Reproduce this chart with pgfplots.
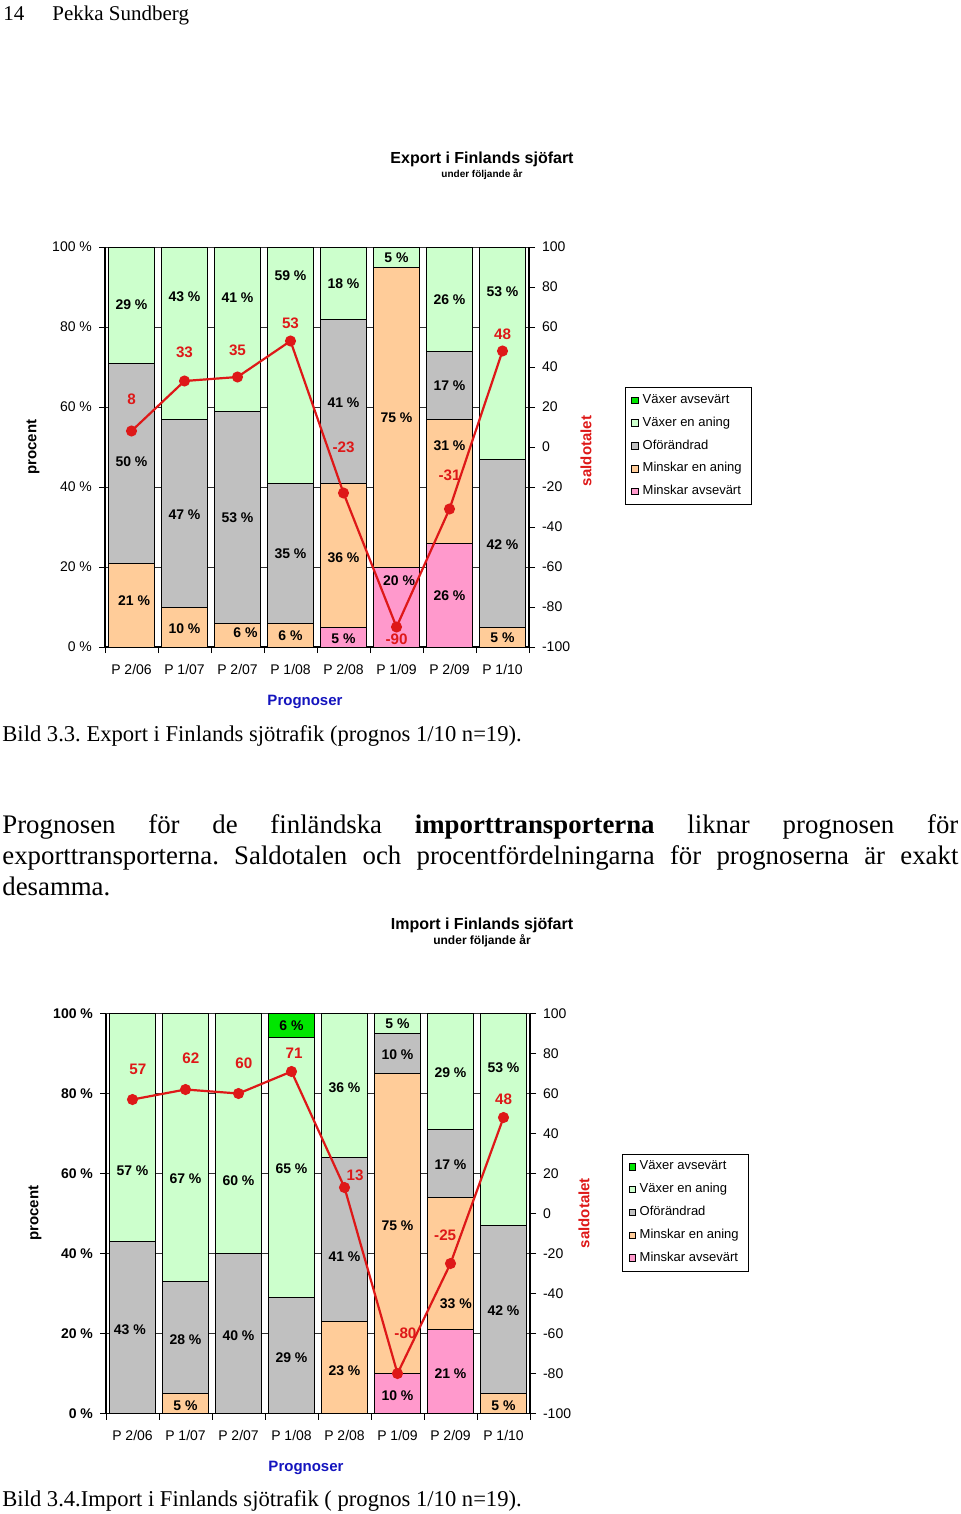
\documentclass[border=0pt]{standalone}
\usepackage{fontspec}
\setmainfont{Liberation Serif}
\newfontfamily\arial{Liberation Sans}
\usepackage{pgfplots}
\usepackage{pgfplotstable}
\pgfplotsset{compat=1.18}
\frenchspacing

\definecolor{vav}{RGB}{0,230,0}
\definecolor{ven}{RGB}{204,255,204}
\definecolor{ofo}{RGB}{192,192,192}
\definecolor{men}{RGB}{255,204,153}
\definecolor{mav}{RGB}{255,153,204}
\definecolor{saldo}{RGB}{222,24,24}
\definecolor{progn}{RGB}{20,20,190}

% shares in percent (stacked bottom to top) and saldo
\pgfplotstableread{
x mav men ofo ven vav saldo
0 0 21 50 29 0 8
1 0 10 47 43 0 33
2 0 6 53 41 0 35
3 0 6 35 59 0 53
4 5 36 41 18 0 -23
5 20 75 0 5 0 -90
6 26 31 17 26 0 -31
7 0 5 42 53 0 48
}\exporttab
\pgfplotstableread{
x mav men ofo ven vav saldo
0 0 0 43 57 0 57
1 0 5 28 67 0 62
2 0 0 40 60 0 60
3 0 0 29 65 6 71
4 0 23 41 36 0 13
5 10 75 10 5 0 -80
6 21 33 17 29 0 -25
7 0 5 42 53 0 48
}\importtab

\newcommand{\chf}{\arial\fontsize{7}{8}\selectfont}
\newcommand{\chb}{\arial\bfseries\fontsize{7}{8}\selectfont}

\tikzset{
  pl/.style={font=\chb, inner sep=0pt, text=black},
  sl/.style={font=\arial\bfseries\fontsize{7.6}{8}\selectfont, text=saldo, inner sep=0pt},
}
\pgfplotsset{
  sq/.style={legend image code/.code={\draw[##1,draw=black,line width=0.4pt] (0pt,-1.6pt) rectangle (3.2pt,1.6pt);}},
  barax/.style={
    scale only axis, width=212pt, height=200pt, anchor=south west,
    xmin=-0.5, xmax=7.5, ymin=0, ymax=100,
    ybar stacked, bar width=23pt,
    axis x line*=bottom, axis y line*=left,
    axis line style={black, line width=0.6pt},
    xtick={-0.5,0.5,...,7.5}, xticklabels={},
    extra x ticks={0,...,7},
    extra x tick labels={P 2/06,P 1/07,P 2/07,P 1/08,P 2/08,P 1/09,P 2/09,P 1/10},
    extra x tick style={major tick length=0pt, xticklabel style={yshift=-5pt}},
    ytick={0,20,...,100},
    yticklabels={0 \%,20 \%,40 \%,60 \%,80 \%,100 \%},
    ymajorgrids, grid style={black!80, line width=0.5pt},
    tick align=outside, major tick length=3pt,
    tick style={black, line width=0.5pt},
    tick label style={font=\chf},
    reverse legend,
    legend style={draw=black, line width=0.5pt, anchor=north west,
      font=\arial\fontsize{6.5}{7}\selectfont,
      inner xsep=3pt, inner ysep=1.5pt, row sep=1.2pt,
      cells={anchor=west}},
  },
  saldax/.style={
    scale only axis, width=212pt, height=200pt, anchor=south west,
    xmin=-0.5, xmax=7.5, ymin=-100, ymax=100,
    axis x line=none, axis y line*=right,
    axis line style={black, line width=0.6pt},
    ytick={-100,-80,...,100},
    yticklabels={-100,-80,-60,-40,-20,0,20,40,60,80,100},
    tick align=outside, major tick length=3pt,
    tick style={black, line width=0.5pt},
    tick label style={font=\chf},
  },
}

\begin{document}
\begin{tikzpicture}
\path[use as bounding box] (0pt,0pt) rectangle (480pt,-757pt);

% ---------- page text ----------
\node[anchor=base west, inner sep=0pt, font=\fontsize{10.5}{12}\selectfont] at (1.5pt,-10.5pt) {14};
\node[anchor=base west, inner sep=0pt, font=\fontsize{10.5}{12}\selectfont] at (26pt,-10.5pt) {Pekka Sundberg};

\node[font=\arial\bfseries\fontsize{8}{9}\selectfont] at (241pt,-79.5pt) {Export i Finlands sjöfart};
\node[font=\arial\bfseries\fontsize{5}{6}\selectfont] at (241pt,-87pt) {under följande år};
\node[rotate=90, font=\arial\bfseries\fontsize{7.5}{8}\selectfont] at (16.5pt,-223.5pt) {procent};
\node[rotate=90, text=saldo, font=\arial\bfseries\fontsize{7.5}{8}\selectfont] at (293pt,-225.5pt) {saldotalet};
\node[text=progn, font=\arial\bfseries\fontsize{7.5}{8}\selectfont] at (152.5pt,-351pt) {Prognoser};
\node[anchor=base west, inner sep=0pt, font=\fontsize{11.3}{13}\selectfont] at (1pt,-370.5pt) {Bild 3.3. Export i Finlands sjötrafik (prognos 1/10 n=19).};

\node[anchor=base west, inner sep=0pt, font=\fontsize{13.4}{15.5}\selectfont] at (1pt,-416.5pt)
  {\makebox[478pt][s]{Prognosen för de finländska \textbf{importtransporterna} liknar prognosen för}};
\node[anchor=base west, inner sep=0pt, font=\fontsize{13.4}{15.5}\selectfont] at (1pt,-432pt)
  {\makebox[478pt][s]{exporttransporterna. Saldotalen och procentfördelningarna för prognoserna är exakt}};
\node[anchor=base west, inner sep=0pt, font=\fontsize{13.4}{15.5}\selectfont] at (1pt,-447.5pt) {desamma.};

\node[font=\arial\bfseries\fontsize{8}{9}\selectfont] at (241pt,-462.5pt) {Import i Finlands sjöfart};
\node[font=\arial\bfseries\fontsize{6}{7}\selectfont] at (241pt,-470.5pt) {under följande år};
\node[rotate=90, font=\arial\bfseries\fontsize{7.5}{8}\selectfont] at (17.5pt,-606.5pt) {procent};
\node[rotate=90, text=saldo, font=\arial\bfseries\fontsize{7.5}{8}\selectfont] at (292pt,-606.5pt) {saldotalet};
\node[text=progn, font=\arial\bfseries\fontsize{7.5}{8}\selectfont] at (153pt,-734pt) {Prognoser};
\node[anchor=base west, inner sep=0pt, font=\fontsize{11.3}{13}\selectfont] at (1pt,-753pt) {Bild 3.4.Import i Finlands sjötrafik ( prognos 1/10 n=19).};

% ---------- chart 1: export ----------
\begin{axis}[barax, at={(52.5pt,-323.5pt)},
  legend style={at={(1.2264,0.65)}}]
\addplot[fill=mav, draw=black, line width=0.5pt, sq] table[x=x,y=mav]{\exporttab};
\addlegendentry{Minskar avsevärt}
\addplot[fill=men, draw=black, line width=0.5pt, sq] table[x=x,y=men]{\exporttab};
\addlegendentry{Minskar en aning}
\addplot[fill=ofo, draw=black, line width=0.5pt, sq] table[x=x,y=ofo]{\exporttab};
\addlegendentry{Oförändrad}
\addplot[fill=ven, draw=black, line width=0.5pt, sq] table[x=x,y=ven]{\exporttab};
\addlegendentry{Växer en aning}
\addplot[fill=vav, draw=black, line width=0.5pt, sq] table[x=x,y=vav]{\exporttab};
\addlegendentry{Växer avsevärt}
\end{axis}
% saldo axis (-100..100); share labels placed on it at y = 2p-100
\begin{axis}[saldax, at={(52.5pt,-323.5pt)}]
\node[pl] at (axis cs:0,71) {29 \%};
\node[pl] at (axis cs:0,-7.5) {50 \%};
\node[pl] at (axis cs:0.05,-77) {21 \%};
\node[pl] at (axis cs:1,75) {43 \%};
\node[pl] at (axis cs:1,-34) {47 \%};
\node[pl] at (axis cs:1,-91) {10 \%};
\node[pl] at (axis cs:2,74.5) {41 \%};
\node[pl] at (axis cs:2,-35.5) {53 \%};
\node[pl] at (axis cs:2.15,-93) {6 \%};
\node[pl] at (axis cs:3,85.5) {59 \%};
\node[pl] at (axis cs:3,-53.5) {35 \%};
\node[pl] at (axis cs:3,-94.5) {6 \%};
\node[pl] at (axis cs:4,81.5) {18 \%};
\node[pl] at (axis cs:4,22) {41 \%};
\node[pl] at (axis cs:4,-55.5) {36 \%};
\node[pl] at (axis cs:4,-96) {5 \%};
\node[pl] at (axis cs:5,94.5) {5 \%};
\node[pl] at (axis cs:5,14.5) {75 \%};
\node[pl] at (axis cs:5.05,-67) {20 \%};
\node[pl] at (axis cs:6,73.5) {26 \%};
\node[pl] at (axis cs:6,30.5) {17 \%};
\node[pl] at (axis cs:6,0.5) {31 \%};
\node[pl] at (axis cs:6,-74.5) {26 \%};
\node[pl] at (axis cs:7,77.5) {53 \%};
\node[pl] at (axis cs:7,-49) {42 \%};
\node[pl] at (axis cs:7,-95.5) {5 \%};
\addplot[saldo, line width=1.1pt, mark=*, mark size=2.2pt] table[x=x,y=saldo]{\exporttab};
\node[sl] at (axis cs:0,24) {8};
\node[sl] at (axis cs:1,47.5) {33};
\node[sl] at (axis cs:2,48.5) {35};
\node[sl] at (axis cs:3,62) {53};
\node[sl] at (axis cs:4,0) {-23};
\node[sl] at (axis cs:5,-96) {-90};
\node[sl] at (axis cs:6,-14) {-31};
\node[sl] at (axis cs:7,56.5) {48};
\end{axis}

% ---------- chart 2: import ----------
\begin{axis}[barax, at={(53pt,-706.75pt)},
  yticklabel style={font=\chb},
  legend style={at={(1.217,0.65)}}]
\addplot[fill=mav, draw=black, line width=0.5pt, sq] table[x=x,y=mav]{\importtab};
\addlegendentry{Minskar avsevärt}
\addplot[fill=men, draw=black, line width=0.5pt, sq] table[x=x,y=men]{\importtab};
\addlegendentry{Minskar en aning}
\addplot[fill=ofo, draw=black, line width=0.5pt, sq] table[x=x,y=ofo]{\importtab};
\addlegendentry{Oförändrad}
\addplot[fill=ven, draw=black, line width=0.5pt, sq] table[x=x,y=ven]{\importtab};
\addlegendentry{Växer en aning}
\addplot[fill=vav, draw=black, line width=0.5pt, sq] table[x=x,y=vav]{\importtab};
\addlegendentry{Växer avsevärt}
\end{axis}
\begin{axis}[saldax, at={(53pt,-706.75pt)}]
\node[pl] at (axis cs:0,21.5) {57 \%};
\node[pl] at (axis cs:-0.05,-58) {43 \%};
\node[pl] at (axis cs:1,17.5) {67 \%};
\node[pl] at (axis cs:1,-63) {28 \%};
\node[pl] at (axis cs:1,-96) {5 \%};
\node[pl] at (axis cs:2,16.5) {60 \%};
\node[pl] at (axis cs:2,-61) {40 \%};
\node[pl] at (axis cs:3,94) {6 \%};
\node[pl] at (axis cs:3,22.5) {65 \%};
\node[pl] at (axis cs:3,-72) {29 \%};
\node[pl] at (axis cs:4,63) {36 \%};
\node[pl] at (axis cs:4,-21.5) {41 \%};
\node[pl] at (axis cs:4,-78.5) {23 \%};
\node[pl] at (axis cs:5,95) {5 \%};
\node[pl] at (axis cs:5,79.5) {10 \%};
\node[pl] at (axis cs:5,-6) {75 \%};
\node[pl] at (axis cs:5,-91) {10 \%};
\node[pl] at (axis cs:6,70.5) {29 \%};
\node[pl] at (axis cs:6,24.5) {17 \%};
\node[pl] at (axis cs:6.1,-45) {33 \%};
\node[pl] at (axis cs:6,-80) {21 \%};
\node[pl] at (axis cs:7,73) {53 \%};
\node[pl] at (axis cs:7,-48.5) {42 \%};
\node[pl] at (axis cs:7,-96) {5 \%};
\addplot[saldo, line width=1.1pt, mark=*, mark size=2.2pt] table[x=x,y=saldo]{\importtab};
\node[sl] at (axis cs:0.1,72) {57};
\node[sl] at (axis cs:1.1,77.5) {62};
\node[sl] at (axis cs:2.1,75) {60};
\node[sl] at (axis cs:3.05,80) {71};
\node[sl] at (axis cs:4.2,19) {13};
\node[sl] at (axis cs:5.15,-60) {-80};
\node[sl] at (axis cs:5.9,-11) {-25};
\node[sl] at (axis cs:7,57) {48};
\end{axis}
\end{tikzpicture}
\end{document}
